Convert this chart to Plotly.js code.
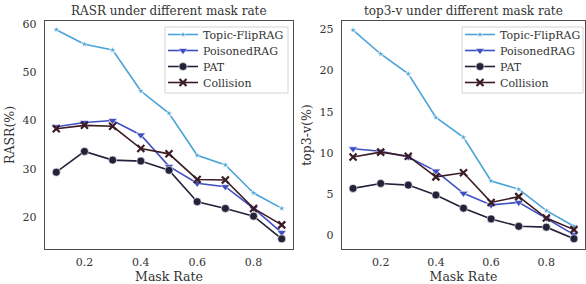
<!DOCTYPE html>
<html>
<head>
<meta charset="utf-8">
<script src="https://cdn.plot.ly/plotly-3.0.1.min.js"></script>
<style>html,body{margin:0;padding:0;background:#fff;}#chart{width:586px;height:284px;}</style>
</head>
<body>
<div id="chart"></div>
<script>
const maskRate = [0.1, 0.2, 0.3, 0.4, 0.5, 0.6, 0.7, 0.8, 0.9];
const seriesNames = ["Topic-FlipRAG", "PoisonedRAG", "PAT", "Collision"];

const rasrTopic    = [58.8, 55.8, 54.6, 46.1, 41.5, 32.8, 30.8, 25.0, 21.8];
const rasrPoisoned = [38.7, 39.6, 40.0, 37.0, 30.5, 27.0, 26.3, 21.8, 16.8];
const rasrPAT      = [29.3, 33.6, 31.8, 31.6, 29.7, 23.2, 21.8, 20.2, 15.5];
const rasrCollision= [38.3, 39.0, 38.8, 34.2, 33.1, 27.8, 27.7, 21.8, 18.4];

const top3Topic    = [24.9, 22.0, 19.6, 14.3, 11.9, 6.6, 5.6, 3.0, 1.1];
const top3Poisoned = [10.5, 10.2, 9.5, 7.8, 5.1, 3.7, 4.0, 2.1, 0.1];
const top3PAT      = [5.7, 6.3, 6.1, 4.9, 3.3, 2.0, 1.1, 1.0, -0.4];
const top3Collision= [9.5, 10.1, 9.6, 7.1, 7.6, 4.0, 4.7, 2.1, 0.7];

const colors = ["#4aa3d8", "#3f4fc2", "#22223a", "#3b1c24"];
const symbols = ["star", "triangle-down", "circle", "x-thin-open"];
const sizes = [5, 8, 8, 7];

const SERIF = "DejaVu Serif";
const TXT = "#333333";

// legend row centres (pixels from top)
const rowY = [34.5, 50.5, 66.5, 82.5];

function mk(y, i, panel) {
  const isX = symbols[i] === "x-thin-open";
  const legId = "legend" + (panel === 0 ? (i === 0 ? "" : String(i + 1)) : String(i + 5));
  return {
    x: maskRate, y: y, type: "scatter", mode: "lines+markers",
    name: seriesNames[i],
    xaxis: panel === 0 ? "x" : "x2", yaxis: panel === 0 ? "y" : "y2",
    showlegend: true, legend: legId,
    line: {color: colors[i], width: 1.6},
    marker: isX
      ? {symbol: "x-thin-open", size: sizes[i], color: colors[i], line: {color: colors[i], width: 2.2}}
      : {symbol: symbols[i], size: sizes[i], color: colors[i], line: {color: "#ffffff", width: 0.6}}
  };
}

const leftSeries = [rasrTopic, rasrPoisoned, rasrPAT, rasrCollision];
const rightSeries = [top3Topic, top3Poisoned, top3PAT, top3Collision];
const traces = [];
leftSeries.forEach((s, i) => traces.push(mk(s, i, 0)));
rightSeries.forEach((s, i) => traces.push(mk(s, i, 1)));

const axBase = {
  showgrid: false, zeroline: false, showline: true, mirror: true,
  linecolor: "#4d4d4d", linewidth: 1.2, ticks: "", ticklen: 0,
  tickfont: {family: SERIF, size: 11, color: TXT}
};
const titleFont = {family: SERIF, size: 12.5, color: TXT};

function legendAt(xpx, ypx) {
  return {
    font: {family: SERIF, size: 11, color: TXT},
    bgcolor: "rgba(0,0,0,0)", borderwidth: 0,
    xanchor: "left", yanchor: "middle", itemwidth: 30,
    x: xpx / 586, y: 1 - ypx / 284
  };
}

const layout = {
  width: 586, height: 284,
  margin: {l: 0, r: 0, t: 0, b: 0},
  paper_bgcolor: "#ffffff", plot_bgcolor: "#ffffff",
  font: {family: SERIF, size: 11, color: TXT},
  xaxis: Object.assign({}, axBase, {domain: [45/586, 293/586], range: [0.06, 0.94],
    tickvals: [0.2, 0.4, 0.6, 0.8], ticktext: ["0.2", "0.4", "0.6", "0.8"], ticklabelstandoff: 3,
    title: {text: "Mask Rate", font: titleFont, standoff: 3}}),
  yaxis: Object.assign({}, axBase, {domain: [35/284, 263/284], range: [13.4, 60.6],
    tickvals: [20, 30, 40, 50, 60], ticklabelstandoff: 5,
    title: {text: "RASR(%)", font: titleFont, standoff: 5}}),
  xaxis2: Object.assign({}, axBase, {anchor: "y2", domain: [342/586, 585/586], range: [0.06, 0.94],
    tickvals: [0.2, 0.4, 0.6, 0.8], ticktext: ["0.2", "0.4", "0.6", "0.8"], ticklabelstandoff: 3,
    title: {text: "Mask Rate", font: titleFont, standoff: 3}}),
  yaxis2: Object.assign({}, axBase, {anchor: "x2", domain: [35/284, 263/284], range: [-1.65, 26.0],
    tickvals: [0, 5, 10, 15, 20, 25], ticklabelstandoff: 5,
    title: {text: "top3-v(%)", font: titleFont, standoff: 5}}),
  shapes: [
    {type: "rect", xref: "paper", yref: "paper", x0: 165/586, x1: 288/586, y0: 1 - 93/284, y1: 1 - 27/284,
     line: {color: "#d4d4d4", width: 1}, fillcolor: "rgba(255,255,255,0.85)", layer: "above"},
    {type: "rect", xref: "paper", yref: "paper", x0: 462/586, x1: 583/586, y0: 1 - 93/284, y1: 1 - 27/284,
     line: {color: "#d4d4d4", width: 1}, fillcolor: "rgba(255,255,255,0.85)", layer: "above"}
  ],
  annotations: [
    {text: "RASR under different mask rate", xref: "paper", yref: "paper",
     x: 169/586, y: 1 - 11/284, xanchor: "center", yanchor: "middle", showarrow: false,
     font: {family: SERIF, size: 12, color: TXT}},
    {text: "top3-v under different mask rate", xref: "paper", yref: "paper",
     x: 463.5/586, y: 1 - 11/284, xanchor: "center", yanchor: "middle", showarrow: false,
     font: {family: SERIF, size: 12, color: TXT}}
  ]
};

for (let i = 0; i < 4; i++) {
  layout["legend" + (i === 0 ? "" : String(i + 1))] = legendAt(163, rowY[i]);
  layout["legend" + String(i + 5)] = legendAt(460, rowY[i]);
}

Plotly.newPlot("chart", traces, layout, {staticPlot: true, displayModeBar: false});
</script>
</body>
</html>
